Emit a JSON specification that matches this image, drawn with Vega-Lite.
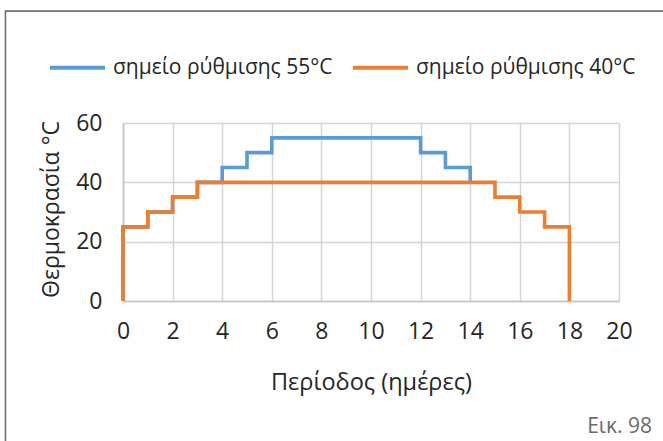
{
  "$schema": "https://vega.github.io/schema/vega-lite/v6.json",
  "width": 496,
  "height": 178,
  "autosize": {"type": "none"},
  "padding": {"left": 123, "top": 123, "right": 44, "bottom": 140},
  "background": "white",
  "config": {"font": "Open Sans", "view": {"stroke": null}},
  "layer": [
    {
      "data": {"values": [
        {"series": "σημείο ρύθμισης 55°C", "i": 0, "day": 0, "temp": 0},
        {"series": "σημείο ρύθμισης 55°C", "i": 1, "day": 0, "temp": 25},
        {"series": "σημείο ρύθμισης 55°C", "i": 2, "day": 1, "temp": 30},
        {"series": "σημείο ρύθμισης 55°C", "i": 3, "day": 2, "temp": 35},
        {"series": "σημείο ρύθμισης 55°C", "i": 4, "day": 3, "temp": 40},
        {"series": "σημείο ρύθμισης 55°C", "i": 5, "day": 4, "temp": 45},
        {"series": "σημείο ρύθμισης 55°C", "i": 6, "day": 5, "temp": 50},
        {"series": "σημείο ρύθμισης 55°C", "i": 7, "day": 6, "temp": 55},
        {"series": "σημείο ρύθμισης 55°C", "i": 8, "day": 12, "temp": 50},
        {"series": "σημείο ρύθμισης 55°C", "i": 9, "day": 13, "temp": 45},
        {"series": "σημείο ρύθμισης 55°C", "i": 10, "day": 14, "temp": 40},
        {"series": "σημείο ρύθμισης 40°C", "i": 0, "day": 0, "temp": 0},
        {"series": "σημείο ρύθμισης 40°C", "i": 1, "day": 0, "temp": 25},
        {"series": "σημείο ρύθμισης 40°C", "i": 2, "day": 1, "temp": 30},
        {"series": "σημείο ρύθμισης 40°C", "i": 3, "day": 2, "temp": 35},
        {"series": "σημείο ρύθμισης 40°C", "i": 4, "day": 3, "temp": 40},
        {"series": "σημείο ρύθμισης 40°C", "i": 5, "day": 15, "temp": 35},
        {"series": "σημείο ρύθμισης 40°C", "i": 6, "day": 16, "temp": 30},
        {"series": "σημείο ρύθμισης 40°C", "i": 7, "day": 17, "temp": 25},
        {"series": "σημείο ρύθμισης 40°C", "i": 8, "day": 18, "temp": 0}
      ]},
      "mark": {"type": "line", "interpolate": "step-after", "strokeWidth": 3.6},
      "encoding": {
        "x": {
          "field": "day", "type": "quantitative",
          "scale": {"domain": [0, 20]},
          "title": "Περίοδος (ημέρες)",
          "axis": {
            "values": [0, 2, 4, 6, 8, 10, 12, 14, 16, 18, 20],
            "ticks": false, "tickSize": 0, "labelFlush": false, "labelOverlap": false,
            "labelPadding": 37, "labelBaseline": "alphabetic",
            "labelFontSize": 23, "labelColor": "#262626", "labelFont": "Open Sans",
            "gridColor": "#d4d4d4", "gridWidth": 1.5,
            "domainColor": "#c4c4c4", "domainWidth": 1.6,
            "titleFontSize": 23.5, "titleFontWeight": "normal",
            "titleColor": "#262626", "titleFont": "Open Sans",
            "titleX": 248, "titleY": 88, "titleAlign": "center", "titleBaseline": "alphabetic"
          }
        },
        "y": {
          "field": "temp", "type": "quantitative",
          "scale": {"domain": [0, 60]},
          "title": "Θερμοκρασία °C",
          "axis": {
            "values": [0, 20, 40, 60],
            "ticks": false, "tickSize": 0, "labelFlush": false, "labelOverlap": false,
            "labelPadding": 21,
            "labelFontSize": 23, "labelColor": "#262626", "labelFont": "Open Sans",
            "gridColor": "#d4d4d4", "gridWidth": 1.5,
            "domainColor": "#c4c4c4", "domainWidth": 1.6,
            "titleFontSize": 23, "titleFontWeight": "normal",
            "titleColor": "#262626", "titleFont": "Open Sans",
            "titleAngle": -90, "titleX": -65, "titleY": 86, "titleAlign": "center", "titleBaseline": "alphabetic"
          }
        },
        "order": {"field": "i"},
        "color": {
          "field": "series", "type": "nominal",
          "scale": {"domain": ["σημείο ρύθμισης 55°C", "σημείο ρύθμισης 40°C"], "range": ["#5b9bd5", "#ed7d31"]},
          "legend": {
            "orient": "none", "legendX": -75, "legendY": -85, "direction": "horizontal",
            "title": null, "symbolType": "stroke", "symbolSize": 3025, "symbolStrokeWidth": 4,
            "labelFontSize": 21, "labelColor": "#262626", "labelFont": "Open Sans", "labelLimit": 400,
            "labelOffset": 6, "columnPadding": 12
          }
        }
      }
    },
    {
      "data": {"values": [{"label": "Εικ. 98"}]},
      "mark": {"type": "text", "align": "right", "baseline": "alphabetic", "fontSize": 21, "color": "#6b6b6b", "font": "Open Sans"},
      "encoding": {
        "text": {"field": "label", "type": "nominal"},
        "x": {"datum": 21.33, "type": "quantitative", "scale": {"domain": [0, 20]}, "title": "Περίοδος (ημέρες)"},
        "y": {"datum": -44.5, "type": "quantitative", "scale": {"domain": [0, 60]}, "title": "Θερμοκρασία °C"}
      }
    },
    {
      "data": {"values": [{}]},
      "mark": {"type": "rect", "fill": null, "stroke": "#707070", "strokeWidth": 1.6},
      "encoding": {
        "x": {"datum": -4.74, "type": "quantitative", "scale": {"domain": [0, 20]}, "title": "Περίοδος (ημέρες)"},
        "x2": {"datum": 30},
        "y": {"datum": 97.7, "type": "quantitative", "scale": {"domain": [0, 60]}, "title": "Θερμοκρασία °C"},
        "y2": {"datum": -60}
      }
    }
  ]
}
